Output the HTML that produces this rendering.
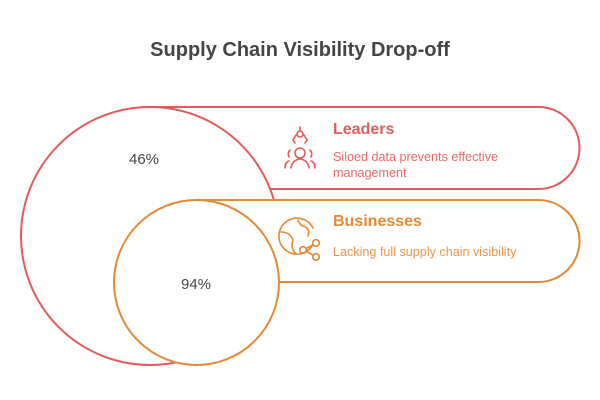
<!DOCTYPE html>
<html><head><meta charset="utf-8"><style>
html,body{margin:0;padding:0;background:#fff;}
body{width:600px;height:400px;overflow:hidden;}
svg{display:block;}
</style></head><body>
<svg width="600" height="400" viewBox="0 0 600 400" xmlns="http://www.w3.org/2000/svg" font-family="Liberation Sans, sans-serif">
<text x="300" y="56" text-anchor="middle" font-size="20" font-weight="bold" fill="#454545">Supply Chain Visibility Drop-off</text>
<path d="M150 107 H538.5 A41 41 0 0 1 538.5 189 H150 Z" fill="#fff" stroke="#e35b5b" stroke-width="2"/>
<circle cx="150" cy="236" r="129" fill="#fff" stroke="#e35b5b" stroke-width="2"/>
<path d="M197 200 H538.5 A41 41 0 0 1 538.5 282 H197 Z" fill="#fff" stroke="#e38a35" stroke-width="2"/>
<circle cx="196.5" cy="282.5" r="82.5" fill="#fff" stroke="#e38a35" stroke-width="2"/>
<text x="144" y="164" text-anchor="middle" font-size="15" fill="#454545">46%</text>
<text x="196" y="289" text-anchor="middle" font-size="15" fill="#454545">94%</text>
<g fill="none" stroke="#e35b5b" stroke-width="1.6" stroke-linecap="round">
<line x1="300" y1="127" x2="300" y2="131"/>
<circle cx="300" cy="134" r="3"/>
<path d="M296 135 L293 140 L295 143 M304 135 L307 140 L305 143"/>
<circle cx="300" cy="153" r="5"/>
<path d="M291 168 Q292 160 300 159 Q308 160 309 168"/>
<path d="M290 150 Q287 153 289 157 M310 150 Q313 153 311 157"/>
<path d="M285 168 Q285 162 289 161 M315 168 Q315 162 311 161"/>
</g>
<text x="333" y="134" font-size="16" font-weight="bold" fill="#e35b5b">Leaders</text>
<text x="333" y="161" font-size="12.6" fill="#e56a6a">Siloed data prevents effective</text>
<text x="333" y="177" font-size="12.6" fill="#e56a6a">management</text>
<g fill="none" stroke="#e38a35" stroke-width="1.6" stroke-linecap="round">
<path d="M312 246 A18 18 0 1 1 313 228"/>
<path d="M281 232 Q290 232 293 240 Q290 248 296 254"/>
<path d="M298 220 Q300 226 306 227 Q310 230 308 236"/>
<circle cx="316" cy="243" r="3.3"/>
<circle cx="303" cy="250" r="3.3"/>
<circle cx="316" cy="257" r="3.3"/>
<line x1="306" y1="248.5" x2="313" y2="245"/>
<line x1="306" y1="251.5" x2="313" y2="255"/>
</g>
<text x="333" y="226" font-size="16" font-weight="bold" fill="#e38a35">Businesses</text>
<text x="333" y="256" font-size="12.6" fill="#e8964a">Lacking full supply chain visibility</text>
</svg>
</body></html>
